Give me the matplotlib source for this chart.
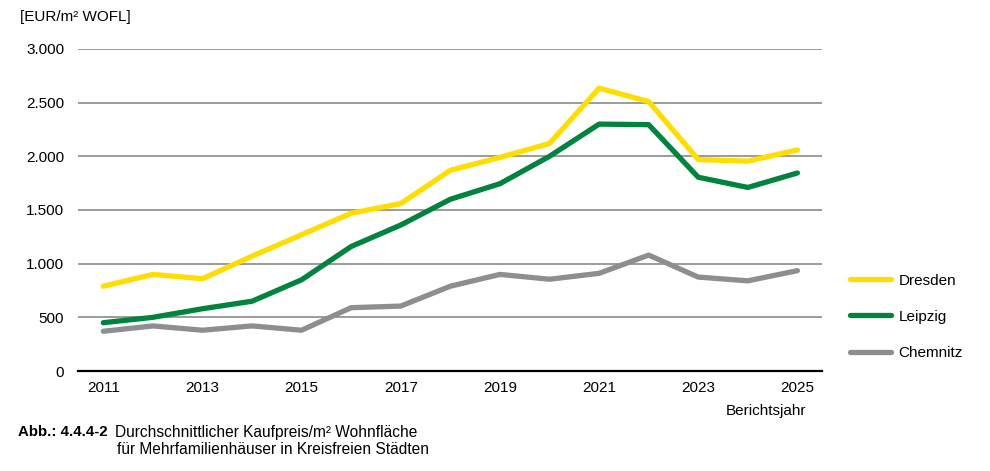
import numpy as np
import matplotlib
matplotlib.use("Agg")
import matplotlib.pyplot as plt

plt.rcParams["font.family"] = ["Liberation Sans", "DejaVu Sans"]

years = np.arange(2011, 2026)
dresden = [790, 900, 860, 1070, 1270, 1470, 1560, 1870, 1990, 2120, 2635, 2510, 1970, 1955, 2060]
leipzig = [450, 500, 580, 650, 850, 1160, 1360, 1600, 1745, 2000, 2300, 2295, 1805, 1710, 1845]
chemnitz = [370, 420, 380, 420, 380, 590, 605, 790, 900, 855, 910, 1080, 875, 840, 935]
series = [("Dresden", dresden, "#FFDD00"),
          ("Leipzig", leipzig, "#00843D"),
          ("Chemnitz", chemnitz, "#8C8E90")]
yticks = [0, 500, 1000, 1500, 2000, 2500, 3000]
ytick_labels = ["0", "500", "1.000", "1.500", "2.000", "2.500", "3.000"]
xticks = [2011, 2013, 2015, 2017, 2019, 2021, 2023, 2025]

fig = plt.figure(figsize=(9.9, 4.71), dpi=100)
ax = fig.add_axes([0.0788, 0.2123, 0.7512, 0.6837])

for y in yticks[1:]:
    ax.axhline(y, color="#8a8a8a", lw=1.2, zorder=1)

for name, vals, col in series:
    ax.plot(years, vals, color=col, lw=3.8, label=name, zorder=3, solid_capstyle="round")

ax.set_xlim(2010.49, 2025.49)
ax.set_ylim(0, 3000)
ax.set_yticks(yticks)
ax.set_yticklabels(ytick_labels, fontsize=11)
ax.set_xticks(xticks)
ax.set_xticklabels([str(x) for x in xticks], fontsize=11)
ax.tick_params(length=0, pad=10)
ax.tick_params(axis="x", pad=7)
for s in ["top", "right", "left"]:
    ax.spines[s].set_visible(False)
ax.spines["bottom"].set_color("black")
ax.spines["bottom"].set_linewidth(1.6)

fig.text(20 / 990, 1 - 17 / 471, "[EUR/m² WOFL]", fontsize=11, va="center", ha="left")
fig.text(806 / 990, 1 - 411 / 471, "Berichtsjahr", fontsize=11, va="center", ha="right")

ax.legend(loc="upper left", bbox_to_anchor=(1.019, 0.345), frameon=False, fontsize=11,
          handlelength=2.7, handletextpad=0.5, labelspacing=1.45)

fig.text(18 / 990, 1 - 432 / 471, "Abb.: 4.4.4-2", fontsize=10.8, fontweight="bold", va="center", ha="left")
fig.text(115 / 990, 1 - 432 / 471, "Durchschnittlicher Kaufpreis/m² Wohnfläche", fontsize=11.2,
         va="center", ha="left")
fig.text(117 / 990, 1 - 449 / 471, "für Mehrfamilienhäuser in Kreisfreien Städten", fontsize=11.2,
         va="center", ha="left")

fig.savefig("out.png", dpi=100)
